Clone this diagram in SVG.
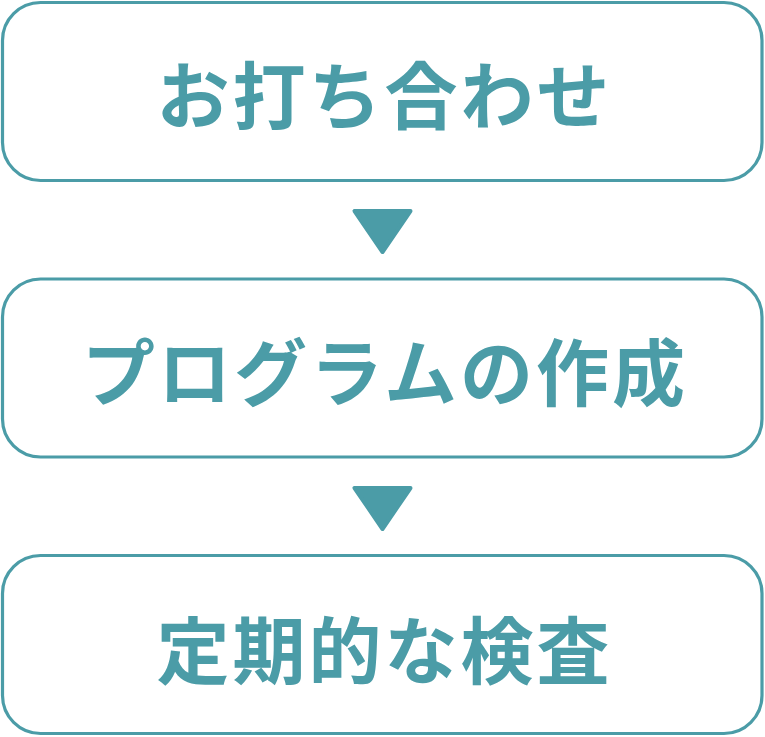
<svg xmlns="http://www.w3.org/2000/svg" width="765" height="737" viewBox="0 0 765 737">
<style>
.box{fill:#ffffff;stroke:#4b9ca7;stroke-width:3.2}
.lbl{fill:#4b9ca7;font-family:"Noto Sans CJK JP","Noto Sans CJK SC",sans-serif;font-weight:700;font-size:73px;text-anchor:middle;letter-spacing:3px}
.arr{fill:#4b9ca7;stroke:#4b9ca7;stroke-width:4;stroke-linejoin:round}
</style>
<rect width="765" height="737" fill="#ffffff"/>
<g id="connectors">
<polygon class="arr" points="354.5,211 410.5,211 382.5,252"/>
<polygon class="arr" points="354.5,488 410.5,488 382.5,529"/>
</g>
<g id="node1">
<rect class="box" x="2.5" y="2.5" width="759.5" height="178" rx="38" ry="38"/>
<text class="lbl" x="384.5" y="122.5">お打ち合わせ</text>
</g>
<g id="node2">
<rect class="box" x="2.5" y="279" width="759.5" height="178" rx="38" ry="38"/>
<text class="lbl" x="385" y="399.5">プログラムの作成</text>
</g>
<g id="node3">
<rect class="box" x="2.5" y="555.5" width="759.5" height="178" rx="38" ry="38"/>
<text class="lbl" x="384.5" y="677.5">定期的な検査</text>
</g>
</svg>
